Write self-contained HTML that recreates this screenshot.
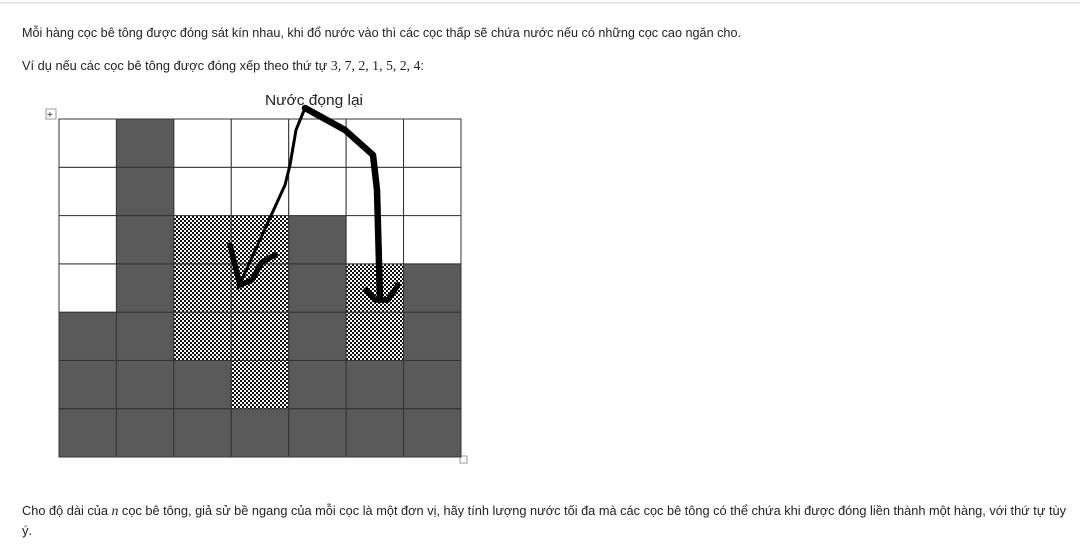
<!DOCTYPE html>
<html><head><meta charset="utf-8"><style>
html,body{margin:0;padding:0;background:#fff;width:1080px;height:558px;overflow:hidden}
text{font-family:"Liberation Sans","DejaVu Sans",sans-serif;fill:#222}
</style></head><body>
<svg id="svg" width="1080" height="558" viewBox="0 0 1080 558" xmlns="http://www.w3.org/2000/svg">
<defs>
<pattern id="hatch" width="4" height="4" patternUnits="userSpaceOnUse">
<rect width="4" height="4" fill="#fff"/>
<rect width="2" height="2" fill="#111"/><rect x="2" y="2" width="2" height="2" fill="#111"/>
</pattern>
</defs>
<line x1="0" y1="3" x2="1080" y2="3" stroke="#ddd" stroke-width="1.5"/>
<text x="22" y="37" font-size="13" textLength="719" lengthAdjust="spacingAndGlyphs">Mỗi hàng cọc bê tông được đóng sát kín nhau, khi đổ nước vào thì các cọc thấp sẽ chứa nước nếu có những cọc cao ngăn cho.</text>
<text x="22" y="70" font-size="13" textLength="402" lengthAdjust="spacingAndGlyphs">Ví dụ nếu các cọc bê tông được đóng xếp theo thứ tự <tspan font-family="Liberation Serif, serif" font-size="14">3, 7, 2, 1, 5, 2, 4</tspan>:</text>
<text x="265" y="105" font-size="15" textLength="98" lengthAdjust="spacingAndGlyphs" fill="#111">Nước đọng lại</text>
<g>
<rect x="46" y="109" width="10" height="10" fill="#fff" stroke="#999" stroke-width="1"/>
<text x="47" y="118" font-size="10" fill="#666">+</text>
</g>
<rect x="460" y="456" width="7" height="7" fill="#fff" stroke="#999"/>
<g id="grid"></g>
<g fill="none" stroke="#000" stroke-linecap="round" stroke-linejoin="round">
<path d="M238 288 L285 185 L290 165 L296 130 L305 108" stroke-width="3"/>
<path d="M305 108 L345 130 L373 155 L377 190 L380 300" stroke-width="6.5"/>
<path d="M230 245 L240 285 L252 280 L262 262 L275 255" stroke-width="5.5"/>
<path d="M366 290 L375 300 L388 300 L398 285" stroke-width="5.5"/>
</g>
<text x="22" y="515" font-size="13" textLength="1044" lengthAdjust="spacingAndGlyphs">Cho độ dài của <tspan font-family="Liberation Serif, serif" font-style="italic" font-size="14">n</tspan> cọc bê tông, giả sử bề ngang của mỗi cọc là một đơn vị, hãy tính lượng nước tối đa mà các cọc bê tông có thể chứa khi được đóng liền thành một hàng, với thứ tự tùy</text>
<text x="22" y="535" font-size="13">ý.</text>
</svg>
<script>
const heights = [3, 7, 2, 1, 5, 2, 4];
const water = [0, 0, 3, 4, 0, 2, 0];
const maxLevel = 7;
const x0 = 59, x1 = 461, y0 = 119, y1 = 457;
const cw = (x1 - x0) / heights.length, ch = (y1 - y0) / maxLevel;
function colX(i){ return x0 + i * cw; }
function levelY(l){ return y1 - l * ch; }
const g = document.getElementById('grid');
const NS = 'http://www.w3.org/2000/svg';
heights.forEach((h, i) => {
  for (let l = 0; l < maxLevel; l++) {
    const r = document.createElementNS(NS, 'rect');
    r.setAttribute('x', colX(i)); r.setAttribute('y', levelY(l + 1));
    r.setAttribute('width', cw); r.setAttribute('height', ch);
    let fill = '#fff';
    if (l < h) {
      fill = '#5a5a5a';
      
    } else if (l < h + water[i]) {
      fill = 'url(#hatch)';
      
    } else {
      
    }
    
    r.setAttribute('fill', fill);
    r.setAttribute('stroke', '#333'); r.setAttribute('stroke-width', '1');
    g.appendChild(r);
  }
});
</script>
</body></html>
